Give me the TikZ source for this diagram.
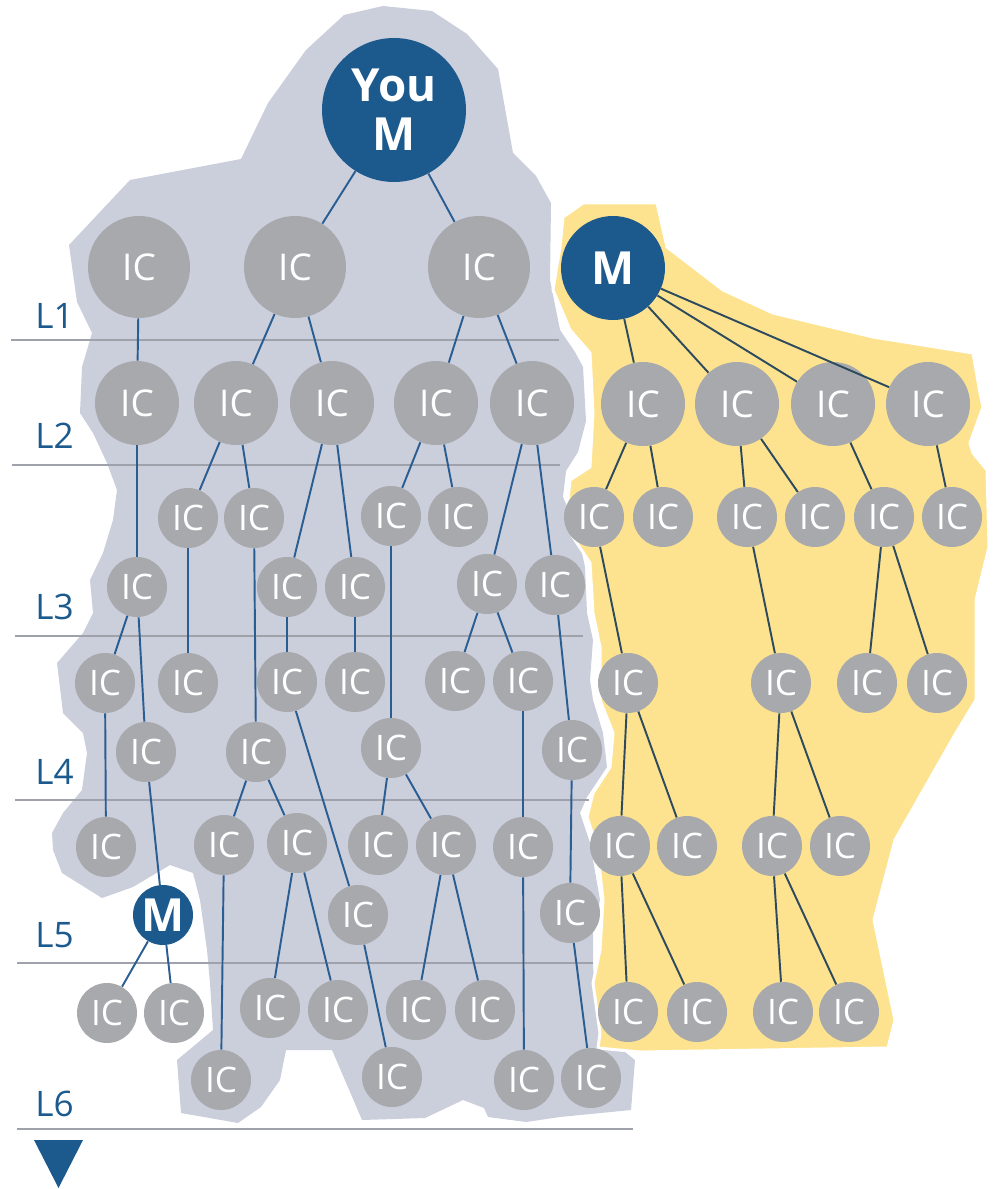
\documentclass[tikz,border=0pt]{standalone}
\usepackage{fontspec}
\setmainfont{Open Sans}

\definecolor{mblue}{HTML}{1C5A8E}
\definecolor{linkblue}{HTML}{2A5D92}
\definecolor{linkdark}{HTML}{2D4A5E}
\definecolor{icgrey}{HTML}{A7A9AC}
\definecolor{zonegrey}{HTML}{CBCEDB}
\definecolor{zoneyellow}{HTML}{FDE38F}
\definecolor{levelgrey}{HTML}{9FA2AB}

\begin{document}
\begin{tikzpicture}[x=0.02cm, y=-0.02cm,
    ic/.style={circle, fill=icgrey, text=white, inner sep=0pt, minimum size=1.2cm,
        font=\fontsize{20}{20}\selectfont},
    icmid/.style={ic, minimum size=1.68cm, font=\fontsize{21}{21}\selectfont},
    icbig/.style={ic, minimum size=2.04cm, font=\fontsize{21}{21}\selectfont},
    mgr/.style={circle, fill=mblue, text=white, inner sep=0pt, minimum size=1.2cm,
        font=\fontsize{26}{28}\selectfont\bfseries},
    lvl/.style={anchor=west, inner sep=0pt, text=mblue, font=\fontsize{20}{20}\selectfont},
    link/.style={linkblue, line width=1.1pt},
    linky/.style={linkdark, line width=1.1pt},
    level/.style={levelgrey, line width=1pt}]
    \useasboundingbox (0,0) rectangle (996,1189);

    % Your network
    \fill[zonegrey] (383,6) -- (432,11) -- (467,34) -- (498,69) -- (513,153) -- (536,176)
        -- (551,203) -- (550,280) -- (560,330) -- (575,352) -- (583,367) -- (586,421)
        -- (578,452) -- (566,471) -- (563,497) -- (577,530) -- (585,567) -- (587,613)
        -- (593,640) -- (590,680) -- (593,700) -- (603,733) -- (607,767) -- (587,797)
        -- (580,813) -- (590,843) -- (600,900) -- (593,933) -- (593,967) -- (597,1000)
        -- (610,1040) -- (635,1060) -- (631,1110) -- (560,1117) -- (526,1122) -- (488,1117)
        -- (484,1108) -- (463,1100) -- (425,1118) -- (362,1120) -- (332,1050) -- (286,1050)
        -- (280,1080) -- (261,1107) -- (238,1123) -- (181,1113) -- (177,1060) -- (213,1030)
        -- (210,983) -- (207,950) -- (200,900) -- (193,873) -- (170,865) -- (133,887)
        -- (102,898) -- (62,873) -- (53,850) -- (52,833) -- (63,813) -- (82,790)
        -- (87,753) -- (83,733) -- (63,713) -- (57,663) -- (83,633) -- (93,613)
        -- (90,580) -- (103,553) -- (113,520) -- (117,490) -- (107,463) -- (93,433)
        -- (80,413) -- (82,367) -- (92,333) -- (77,302) -- (69,245) -- (130,180)
        -- (241,159) -- (268,103) -- (306,50) -- (344,15) -- cycle;

    % The other network
    \filldraw[fill=zoneyellow, draw=white, line width=1.7pt] (563,217) -- (583,203) -- (657,203)
        -- (667,247) -- (723,290) -- (773,313) -- (873,337) -- (973,353) -- (980,393)
        -- (983,407) -- (970,443) -- (973,453) -- (987,470) -- (989,547) -- (976,600)
        -- (976,700) -- (956,733) -- (895,840) -- (874,920) -- (895,1020) -- (888,1048)
        -- (640,1052) -- (598,1048) -- (600,1033) -- (593,983) -- (600,950) -- (603,900)
        -- (597,847) -- (587,817) -- (593,793) -- (610,767) -- (613,733) -- (600,700)
        -- (600,647) -- (593,613) -- (590,563) -- (573,537) -- (567,510) -- (570,480)
        -- (590,467) -- (593,413) -- (590,353) -- (570,330) -- (553,290) -- (560,247) -- cycle;

    % Levels
    \draw[level] (11,340) -- (559,340);
    \draw[level] (12,465) -- (560,465);
    \draw[level] (15,636) -- (583,636);
    \draw[level] (15,800) -- (589,800);
    \draw[level] (17,963) -- (593,963);
    \draw[level] (17,1129) -- (633,1129);
    \node[lvl] (l1) at (35,316) {L1};
    \node[lvl] (l2) at (35,436) {L2};
    \node[lvl] (l3) at (35,607) {L3};
    \node[lvl] (l4) at (35,772) {L4};
    \node[lvl] (l5) at (35,935) {L5};
    \node[lvl] (l6) at (35,1104) {L6};
    \fill[mblue] (34,1140) -- (83,1140) -- (58.5,1188) -- cycle;

    % Managers
    \node[mgr, minimum size=2.88cm, align=center] (you) at (394,110) {You\\M};
    \node[mgr, minimum size=2.08cm] (ym) at (613,268) {M};
    \node[mgr] (mm) at (163,915) {M};

    % Contributors
    \foreach \n/\x/\y in {a1/139/267, a2/295/267, a3/479/267}
        \node[icbig] (\n) at (\x,\y) {IC};
    \foreach \n/\x/\y in {b1/137/403, b2/236/403, b3/332/403, b4/436/403, b5/532/403,
        p1/643/404, p2/737/404, p3/833/404, p4/928/404}
        \node[icmid] (\n) at (\x,\y) {IC};
    \foreach \n/\x/\y in {c1/188/518, c2/254/518, c3/391/516, c4/458/517,
        d1/137/587, d2/287/587, d3/355/587, d4/487/584, d5/555/585,
        e1/105/683, e2/188/683, e3/287/682, e4/355/682, e5/455/681, e6/523/681,
        f1/146/752, f2/256/752, f3/391/748, f4/572/750,
        g1/106/847, g2/224/845, g3/297/843, g4/378/845, g5/446/845, g6/523/847,
        h1/358/915, h2/570/913,
        i1/107/1013, i2/174/1013, i3/270/1008, i4/338/1010, i5/416/1010, i6/485/1010,
        j1/221/1080, j2/392/1077, j3/524/1080, j4/591/1078,
        q1/594/517, q2/663/517, q3/747/517, q4/815/517, q5/884/517, q6/952/517,
        r1/628/683, r2/781/683, r3/867/683, r4/937/683,
        s1/620/846, s2/687/846, s3/772/846, s4/840/846,
        t1/628/1012, t2/697/1012, t3/783/1012, t4/849/1012}
        \node[ic] (\n) at (\x,\y) {IC};

    % Reporting lines
    \foreach \a/\b in {you/a2, you/a3, a1/b1, a2/b2, a2/b3, a3/b4, a3/b5,
        b2/c1, b2/c2, b4/c3, b4/c4, b1/d1, b3/d2, b3/d3, b5/d4, b5/d5,
        d1/e1, c1/e2, d2/e3, d3/e4, d4/e5, d4/e6, d1/f1, c2/f2, c3/f3, d5/f4,
        e1/g1, f2/g2, f2/g3, f3/g4, f3/g5, e6/g6, f1/mm, e3/h1, f4/h2,
        mm/i1, mm/i2, g3/i3, g3/i4, g5/i5, g5/i6, g2/j1, h1/j2, g6/j3, h2/j4}
        \draw[link] (\a) -- (\b);
    \foreach \a/\b in {ym/p1, ym/p2, ym/p3, ym/p4, p1/q1, p1/q2, p2/q3, p2/q4, p3/q5, p4/q6,
        q1/r1, q3/r2, q5/r3, q5/r4, r1/s1, r1/s2, r2/s3, r2/s4, s1/t1, s1/t2, s3/t3, s3/t4}
        \draw[linky] (\a) -- (\b);
\end{tikzpicture}
\end{document}
